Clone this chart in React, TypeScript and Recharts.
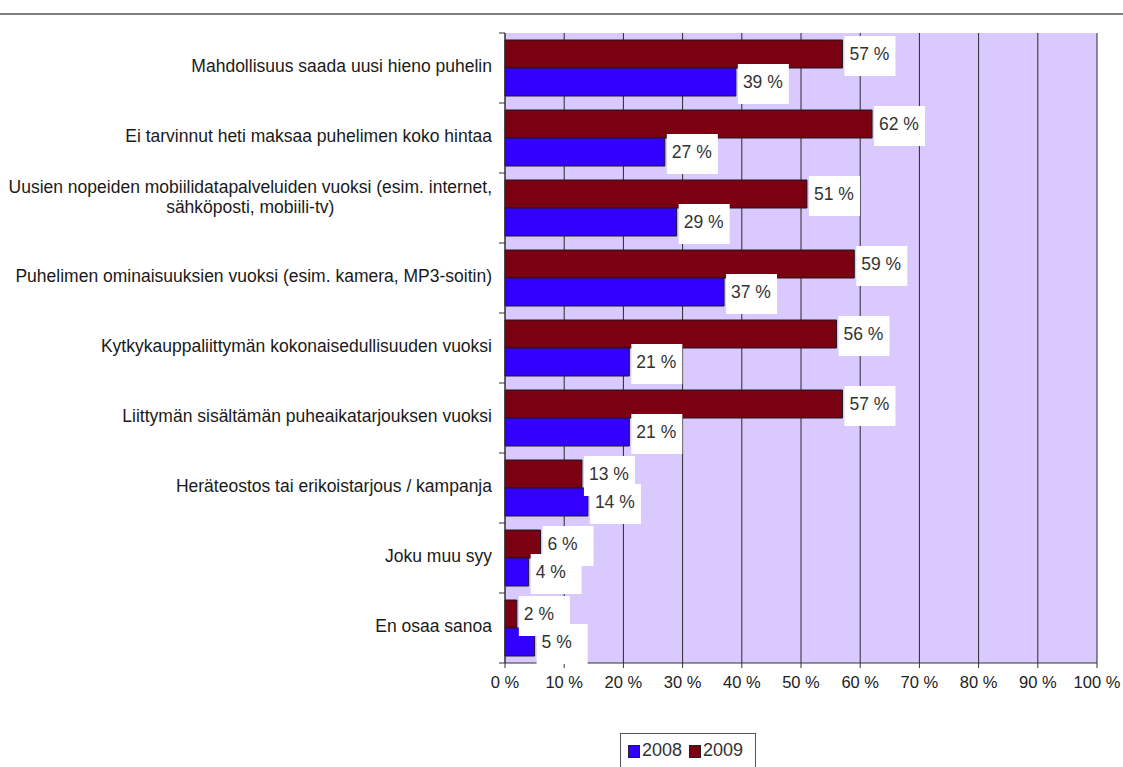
import React from "react";
import {Bar, BarChart, CartesianGrid, LabelList, XAxis, YAxis} from "recharts";

// Reasons for buying the phone, answers in %
const categories = [
	["Mahdollisuus saada uusi hieno puhelin"],
	["Ei tarvinnut heti maksaa puhelimen koko hintaa"],
	["Uusien nopeiden mobiilidatapalveluiden vuoksi (esim. internet,", "sähköposti, mobiili-tv)"],
	["Puhelimen ominaisuuksien vuoksi (esim. kamera, MP3-soitin)"],
	["Kytkykauppaliittymän kokonaisedullisuuden vuoksi"],
	["Liittymän sisältämän puheaikatarjouksen vuoksi"],
	["Heräteostos tai erikoistarjous / kampanja"],
	["Joku muu syy"],
	["En osaa sanoa"],
];
const values2008 = [39, 27, 29, 37, 21, 21, 14, 4, 5];
const values2009 = [57, 62, 51, 59, 56, 57, 13, 6, 2];
const xTicks = [0, 10, 20, 30, 40, 50, 60, 70, 80, 90, 100];

const W = 1123;
const H = 767;
const AXIS_W = 505;
const MARGIN = {top: 33, right: 26, bottom: 74, left: 0};
const X_AXIS_H = 30;
const BAND = (H - MARGIN.top - MARGIN.bottom - X_AXIS_H) / categories.length;

const FONT = "'Liberation Sans', Arial, sans-serif";
const BLUE = "#3300ff";
const RED = "#7a0012";

const data = categories.map((lines, i) => ({
	name: lines.join(" "),
	lines,
	y2008: values2008[i],
	y2009: values2009[i],
}));

const CategoryTick = (props: any) => {
	const {y, index} = props;
	const lines: string[] = data[index].lines;
	const multi = lines.length > 1;
	const top = y - BAND / 2;
	return (
		<g>
			<line x1={AXIS_W - 6} x2={AXIS_W} y1={top} y2={top} stroke="#333"/>
			{index === data.length - 1 && (
				<line x1={AXIS_W - 6} x2={AXIS_W} y1={top + BAND} y2={top + BAND} stroke="#333"/>
			)}
			<foreignObject x={0} y={top - (multi ? 11 : 2)} width={AXIS_W - 13} height={BAND}>
				<div style={{
					height: "100%", display: "flex", alignItems: "center", justifyContent: "flex-end",
					fontFamily: FONT, fontSize: 17.5, color: "#1a1a1a", lineHeight: "20px",
				}}>
					<div style={{textAlign: "center", whiteSpace: "nowrap"}}>
						{lines.map((l, k) => <div key={k}>{l}</div>)}
					</div>
				</div>
			</foreignObject>
		</g>
	);
};

const ValueLabel = (props: any) => {
	const {x, y, width, height, value} = props;
	const bx = x + width + 2;
	return (
		<g>
			<rect x={bx} y={y - 4} width={51} height={40} fill="#fff"/>
			<text x={bx + 5} y={y + height / 2 + 6} fontFamily={FONT} fontSize={17.5} fill="#333">
				{`${value} %`}
			</text>
		</g>
	);
};

const LegendBox = () => (
	<div style={{
		position: "absolute", left: 620, top: 733, width: 136, height: 40,
		border: "1px solid #555", background: "#fff", fontFamily: FONT, fontSize: 18, color: "#333",
		display: "flex", alignItems: "flex-start", paddingTop: 6, boxSizing: "border-box",
	}}>
		{[["2008", BLUE], ["2009", RED]].map(([label, color]) => (
			<div key={label} style={{display: "flex", alignItems: "center", marginLeft: 7}}>
				<span style={{width: 10, height: 11, background: color, border: "1px solid #222", marginRight: 2, marginTop: 2}}/>
				<span>{label}</span>
			</div>
		))}
	</div>
);

const App = () => {
	return (
		<div style={{position: "relative", width: W, height: H, background: "#fff", overflow: "hidden"}}>
			<style>{"html,body{margin:0;padding:0;overflow:hidden}"}</style>
			<div style={{position: "absolute", left: 0, top: 13, width: W, height: 2, background: "#808080"}}/>
			<BarChart
				width={W}
				height={H}
				data={data}
				layout="vertical"
				margin={MARGIN}
				barCategoryGap={7}
				barGap={0}
			>
				<CartesianGrid horizontal={false} stroke="#2a2a2a" fill="#d9c9fe" verticalValues={xTicks}/>
				<XAxis
					type="number"
					domain={[0, 100]}
					ticks={xTicks}
					height={X_AXIS_H}
					tickFormatter={(v) => `${v} %`}
					tick={{fontFamily: FONT, fontSize: 16.5, fill: "#222"}}
					axisLine={{stroke: "#333"}}
					tickLine={{stroke: "#333"}}
					tickSize={5}
					tickMargin={8}
				/>
				<YAxis
					type="category"
					dataKey="name"
					width={AXIS_W}
					axisLine={{stroke: "#333"}}
					tickLine={false}
					tick={<CategoryTick/>}
					interval={0}
				/>
				<Bar dataKey="y2009" name="2009" fill={RED} stroke="#1a1a1a" strokeWidth={1} isAnimationActive={false}>
					<LabelList dataKey="y2009" content={<ValueLabel/>}/>
				</Bar>
				<Bar dataKey="y2008" name="2008" fill={BLUE} stroke="#1a1a1a" strokeWidth={1} isAnimationActive={false}>
					<LabelList dataKey="y2008" content={<ValueLabel/>}/>
				</Bar>
			</BarChart>
			<LegendBox/>
		</div>
	);
};

export default App;
